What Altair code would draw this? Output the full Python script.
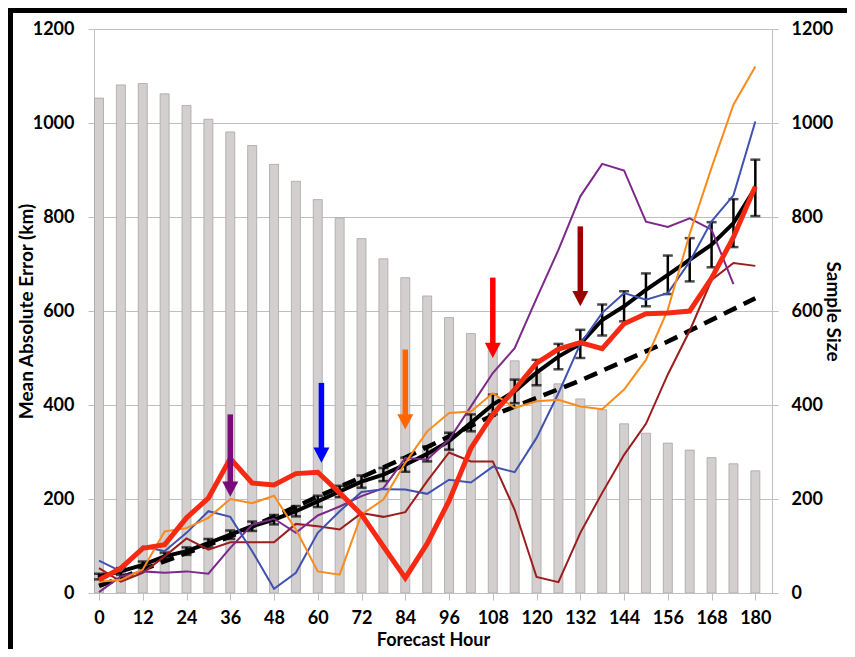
import altair as alt
import pandas as pd

# ---------------- data ----------------
hours = [0, 6, 12, 18, 24, 30, 36, 42, 48, 54, 60, 66, 72, 78, 84, 90,
         96, 102, 108, 114, 120, 126, 132, 138, 144, 150, 156, 162, 168, 174, 180]
sample_size = [1053, 1081, 1084, 1062, 1037, 1008, 981, 952, 912, 876, 837, 798,
               754, 711, 671, 632, 586, 552, 523, 494, 468, 445, 413, 390, 360,
               340, 319, 304, 288, 275, 260]
mean_err = [35, 46, 60, 78, 89, 106, 124, 142, 156, 174, 195, 216, 237, 252, 273,
            296, 323, 362, 401, 429, 469, 503, 530, 581, 610, 645, 677, 709, 741,
            787, 862]
err_half = [6, 7, 7, 8, 8, 9, 9, 10, 10, 11, 12, 12, 13, 14, 15, 16, 18, 18, 21,
            25, 27, 27, 30, 33, 32, 35, 41, 46, 48, 51, 60]
red = [28, 53, 95, 103, 160, 202, 286, 234, 230, 254, 257, 213, 167, 99, 32, 105,
       196, 308, 380, 433, 489, 519, 533, 520, 573, 594, 596, 600, 670, 757, 865]
orange = [24, 28, 50, 131, 138, 160, 200, 191, 207, 135, 46, 39, 167, 199, 277,
          344, 383, 386, 425, 394, 408, 411, 397, 391, 433, 496, 603, 764, 905,
          1039, 1120]
blue = [69, 46, 99, 89, 128, 174, 162, 89, 9, 43, 128, 174, 215, 221, 220, 211,
        241, 235, 269, 257, 330, 425, 530, 596, 638, 624, 638, 705, 791, 846, 1003]
purple = [2, 35, 46, 43, 46, 41, 96, 145, 158, 128, 165, 184, 206, 223, 287, 284,
          326, 397, 468, 521, 627, 730, 844, 913, 899, 790, 779, 797, 773, 657, None]
darkred = [53, 24, 43, 78, 116, 92, 108, 108, 108, 147, 142, 135, 170, 162, 172,
           238, 299, 280, 280, 177, 34, 23, 128, 213, 294, 360, 465, 558, 666, 702, 696]
trend_hours = [0, 36, 60, 84, 108, 132, 156, 180]
trend_vals = [15, 120, 205, 288, 378, 452, 535, 627]

arrow_hours = [36, 61, 84, 108, 132]
arrow_top = [380, 447, 518, 671, 780]
arrow_tip = [205, 277, 348, 500, 610]
arrow_colors = ["#7a0a7a", "#0000ff", "#ff6600", "#ff0000", "#9c0000"]

x_ticks = [0, 12, 24, 36, 48, 60, 72, 84, 96, 108, 120, 132, 144, 156, 168, 180]
y_ticks = [0, 200, 400, 600, 800, 1000, 1200]

# ---------------- styling ----------------
W, H = 678, 564
FONT = "Lato"
GRAY = "#bfbfbf"

xscale = alt.Scale(domain=[0, 183.2], nice=False, zero=False)
yscale = alt.Scale(domain=[0, 1200], nice=False)

base_df = pd.DataFrame({
    "hour": hours, "sample": sample_size, "mean": mean_err, "err": err_half,
    "red": red, "orange": orange, "blue": blue, "purple": purple, "darkred": darkred,
})
trend_df = pd.DataFrame({"hour": trend_hours, "trend": trend_vals})
arrow_df = pd.DataFrame({"hour": arrow_hours, "top": arrow_top,
                         "tip": arrow_tip, "color": arrow_colors})

axis_common = dict(labelFont=FONT, labelFontWeight="bold", labelFontSize=18,
                   labelColor="black", titleFont=FONT, titleFontWeight="bold",
                   titleColor="black", domainColor=GRAY,
                   tickColor=GRAY, domainWidth=1, tickWidth=1, format="d")

x_axis = alt.Axis(values=x_ticks, title="Forecast Hour", grid=False, tickSize=7,
                  labelPadding=9.5, titleFontSize=18, titleBaseline="alphabetic",
                  titleY=52, labelFlush=False, **axis_common)
y_left_axis = alt.Axis(values=y_ticks, title="Mean Absolute Error (km)", grid=True,
                       gridColor=GRAY, gridWidth=1, tickSize=6, labelPadding=14,
                       titlePadding=-4, titleFontSize=19, orient="left", **axis_common)
y_right_axis = alt.Axis(values=y_ticks, title="Sample Size", grid=False, tickSize=6,
                        labelPadding=13, titlePadding=-10, titleFontSize=19,
                        orient="right", **axis_common)

X = alt.X("hour:Q", scale=xscale, axis=x_axis)


def YL(field):
    return alt.Y(f"{field}:Q", scale=yscale, axis=y_left_axis)


bars = alt.Chart(base_df).mark_bar(size=9, clip=True, fill="#d3cfcf",
                                   stroke="#a9a5a5", strokeWidth=0.8).encode(
    x=X,
    y=alt.Y("sample:Q", scale=yscale, axis=y_right_axis),
)

err_base = alt.Chart(base_df).transform_calculate(
    lo="datum.mean - datum.err", hi="datum.mean + datum.err")
err_rule = err_base.mark_rule(color="black", strokeWidth=2.5).encode(
    x=X, y=YL("lo"), y2="hi:Q")
cap_lo = err_base.mark_tick(color="black", thickness=2.5, size=10,
                            orient="horizontal").encode(x=X, y=YL("lo"))
cap_hi = err_base.mark_tick(color="black", thickness=2.5, size=10,
                            orient="horizontal").encode(x=X, y=YL("hi"))

mean_line = alt.Chart(base_df).mark_line(color="black", strokeWidth=4).encode(
    x=X, y=YL("mean"))
trend_line = alt.Chart(trend_df).mark_line(color="black", strokeWidth=4.5,
                                           strokeDash=[14, 8]).encode(
    x=X, y=YL("trend"))


def series(field, color, width):
    return alt.Chart(base_df).transform_filter(
        f"isValid(datum.{field})").mark_line(color=color, strokeWidth=width).encode(
        x=X, y=YL(field))


dark_l = series("darkred", "#9b1d1d", 2)
purple_l = series("purple", "#7b2a8a", 2)
blue_l = series("blue", "#4052b0", 2)
orange_l = series("orange", "#f98b1c", 2)
red_l = series("red", "#f42a12", 5)

arrow_base = alt.Chart(arrow_df).transform_calculate(shaft_end="datum.tip + 20")
arrow_shaft = arrow_base.mark_rule(strokeWidth=5.5, strokeCap="butt").encode(
    x=X, y=YL("top"), y2="shaft_end:Q",
    color=alt.Color("color:N", scale=None))
arrow_head = arrow_base.mark_point(shape="M -1 -1.9 L 1 -1.9 L 0 0 Z", size=256,
                                   filled=True, opacity=1, strokeWidth=0).encode(
    x=X, y=YL("tip"),
    fill=alt.Fill("color:N", scale=None))

frame = alt.Chart(alt.Data(values=[{}])).mark_rect(
    fill=None, stroke="black", strokeWidth=5).encode(
    x=alt.value(-83.5), x2=alt.value(W + 120), y=alt.value(-18.5), y2=alt.value(H + 120))

inner = alt.layer(err_rule, cap_lo, cap_hi, mean_line, trend_line, dark_l, purple_l,
                  blue_l, orange_l, red_l, arrow_shaft, arrow_head, frame)

chart = alt.layer(bars, inner).resolve_scale(y="independent").properties(
    width=W, height=H,
    autosize=alt.AutoSizeParams(type="none"),
    padding={"left": 86, "top": 21, "right": 75, "bottom": 56},
    background="white",
).configure_view(stroke=None)

chart.save("out.html", embed_options={"renderer": "svg", "actions": False})
